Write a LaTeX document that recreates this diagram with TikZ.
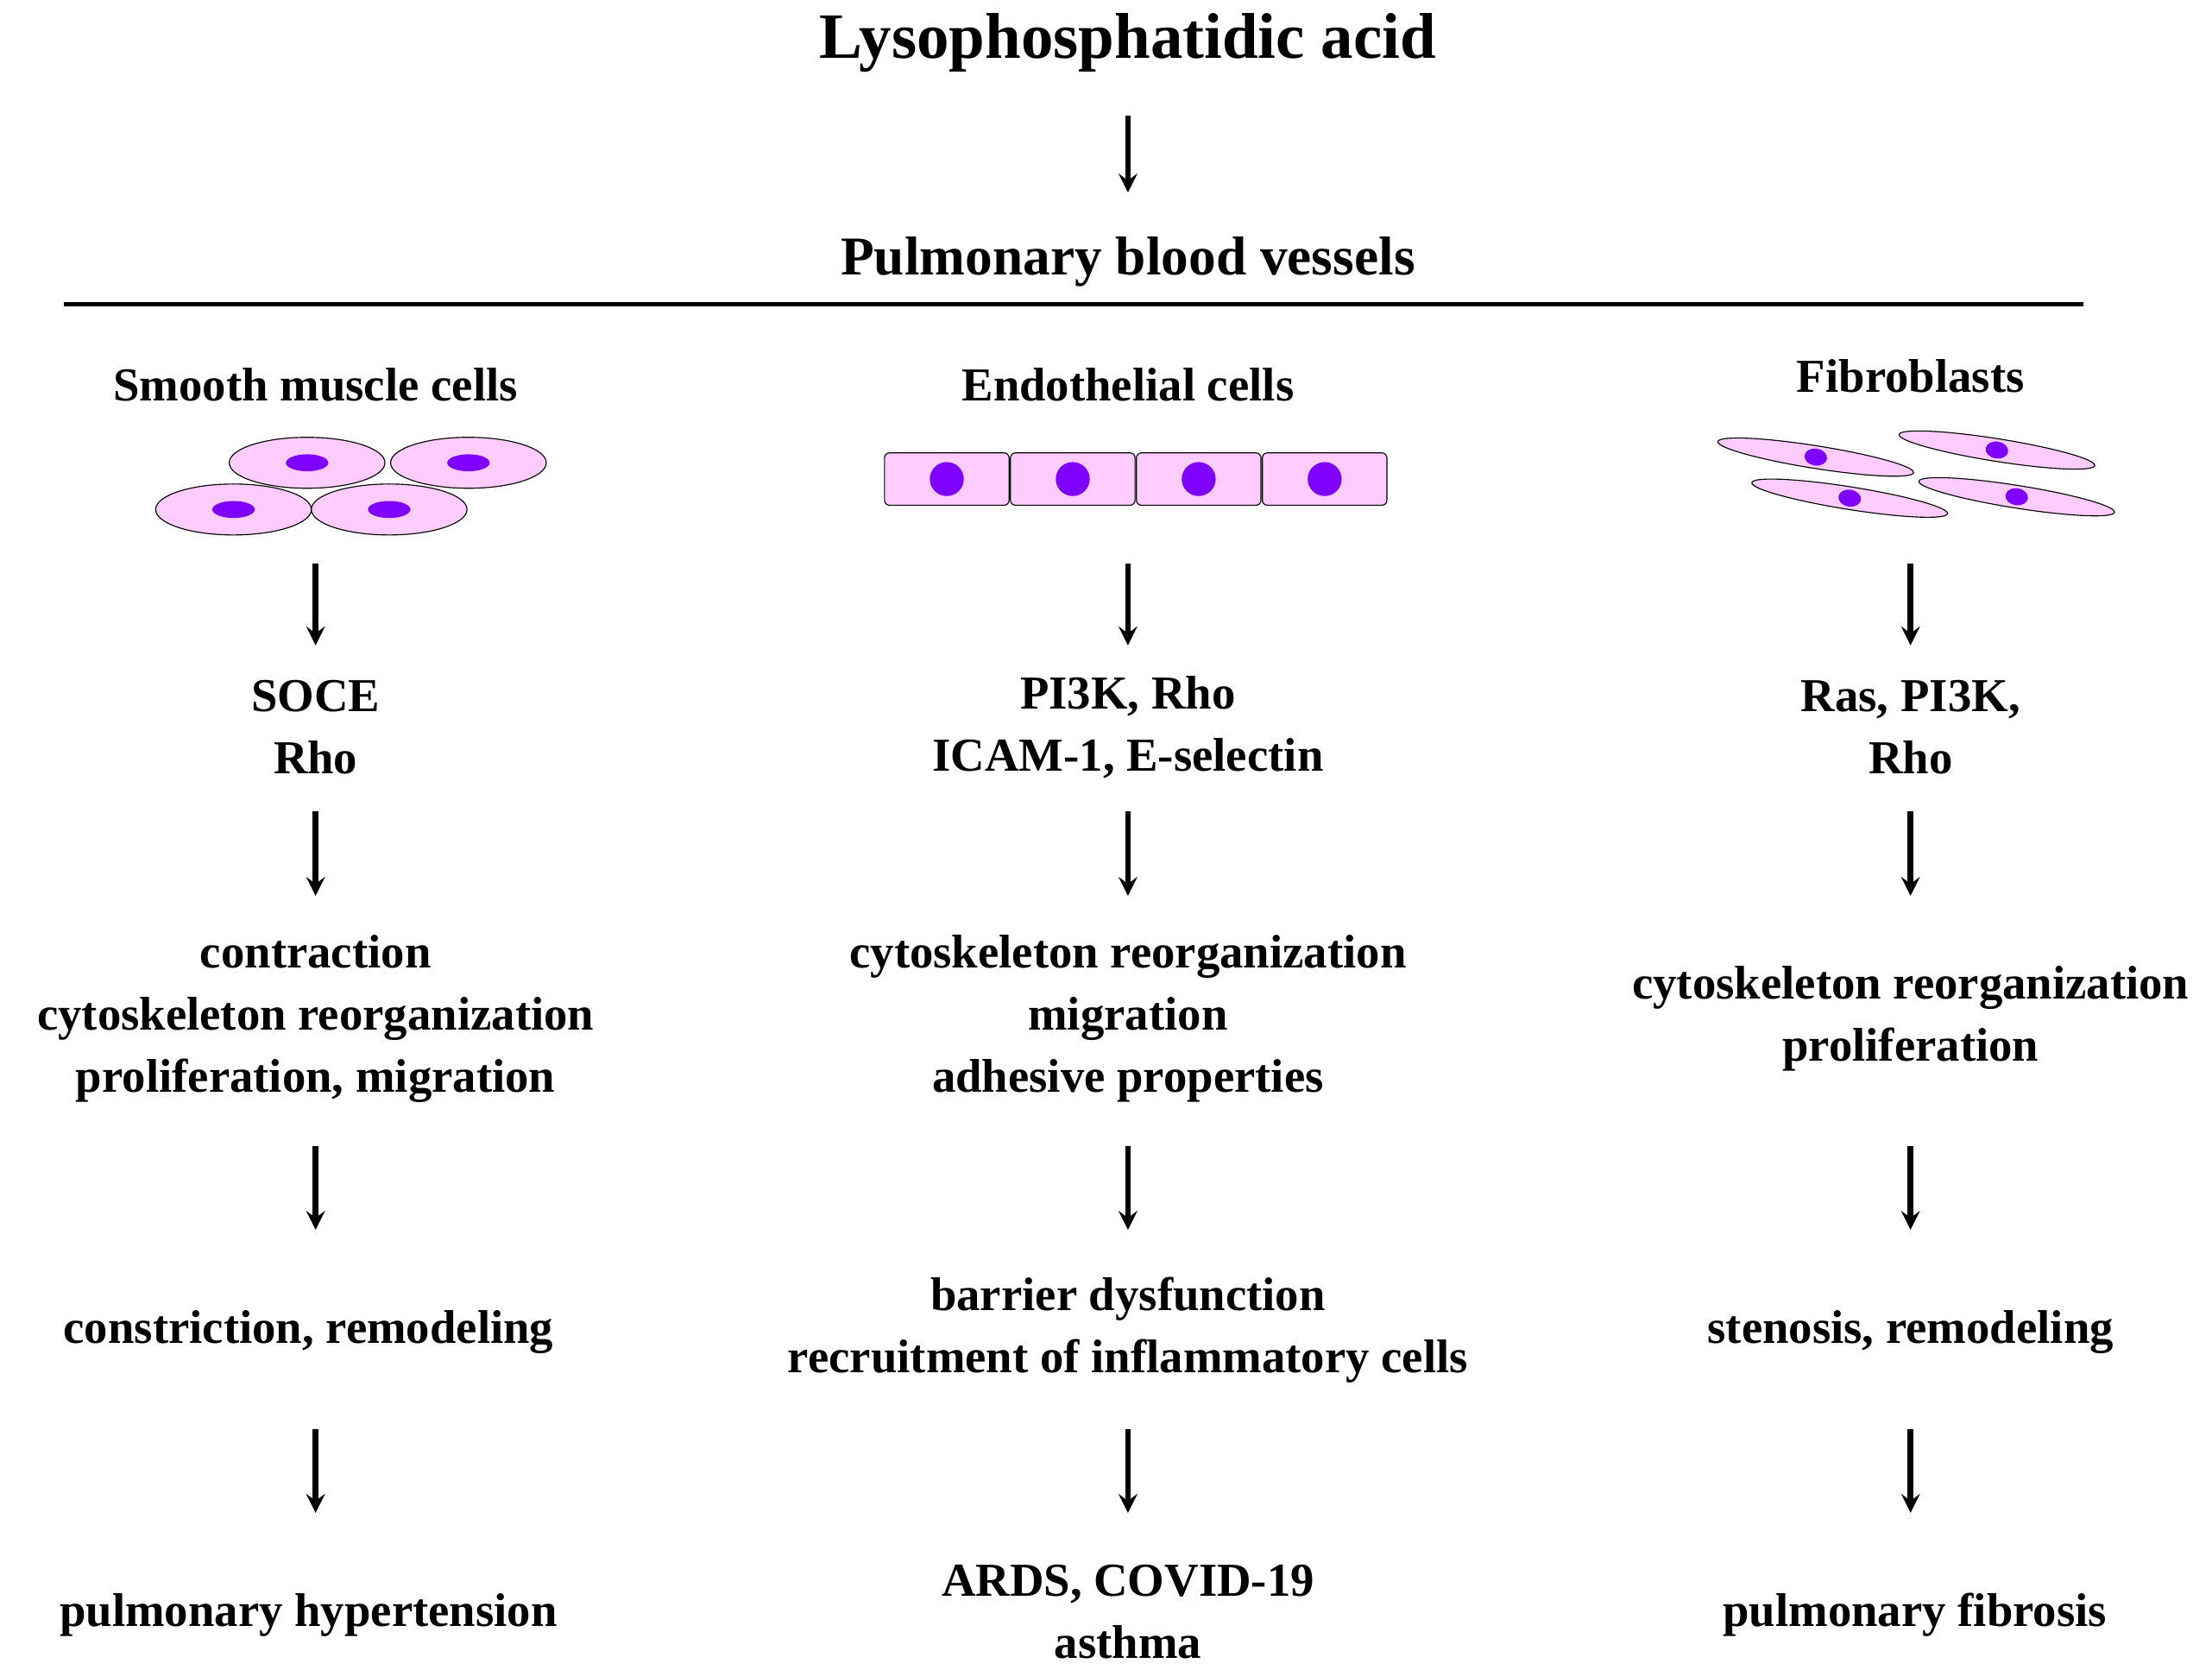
\documentclass[tikz,border=0pt]{standalone}
\usepackage{fontspec}
\setmainfont{Liberation Serif}
\usetikzlibrary{arrows}

\tikzstyle{txt} = [font=\fontsize{19}{25}\selectfont\bfseries, align=center, inner sep=0pt]
\tikzstyle{arrow} = [line width=0.08cm,->,>=stealth]
\tikzstyle{cell} = [draw, thin, fill=cellpink]
\tikzstyle{nucleus} = [fill=nucpurple]
\definecolor{cellpink}{HTML}{FFCCFF}
\definecolor{nucpurple}{HTML}{7F00FF}

\begin{document}
\begin{tikzpicture}
    [x=0.02cm, y=-0.02cm]
  \useasboundingbox (0,0) rectangle (1563,1184);
  % title
  \node[txt, font=\fontsize{26}{30}\selectfont\bfseries] (lpa) at (797,30) {Lysophosphatidic acid};
  \node[txt, font=\fontsize{22}{26}\selectfont\bfseries] (pbv) at (797,185) {Pulmonary blood vessels};
  \coordinate (a0) at (797,82);
  \coordinate (b0) at (797,136);
  \draw [arrow] (a0) -- (b0);
  \coordinate (l1) at (45,215);
  \coordinate (l2) at (1472,215);
  \draw [line width=0.06cm] (l1) -- (l2);
  % headers
  \node[txt] (smc) at (223,272) {Smooth muscle cells};
  \node[txt] (endo) at (797,272) {Endothelial cells};
  \node[txt] (fib) at (1350,266) {Fibroblasts};
  % smooth muscle cells
  \foreach \x/\y in {217/327, 331/327, 165/360, 275/360} {
    \draw[cell] (\x,\y) ellipse (55 and 18);
    \fill[nucleus] (\x,\y) ellipse (15 and 6);
  }
  % endothelial cells
  \foreach \x in {625,714,803,892} {
    \draw[cell, rounded corners=2] (\x,320) rectangle ++(88,37);
    \fill[nucleus] (\x+44,338.5) circle (12);
  }
  % fibroblasts
  \foreach \x/\y in {1283/323, 1411/318, 1307/352, 1425/351} {
    \draw[cell, rotate around={-9:(\x,\y)}] (\x,\y) ellipse (70 and 8);
    \fill[nucleus, rotate around={-9:(\x,\y)}] (\x,\y) ellipse (8 and 6);
  }
  % column texts
  \node[txt] (smc1) at (223,514) {SOCE\\Rho};
  \node[txt] (smc2) at (223,720) {contraction\\cytoskeleton reorganization\\proliferation, migration};
  \node[txt] (smc3) at (218,941) {constriction, remodeling};
  \node[txt] (smc4) at (218,1141) {pulmonary hypertension};
  \node[txt] (endo1) at (797,514) {PI3K, Rho\\ICAM-1, E-selectin};
  \node[txt] (endo2) at (797,720) {cytoskeleton reorganization\\migration\\adhesive properties};
  \node[txt] (endo3) at (797,940) {barrier dysfunction\\recruitment of inflammatory cells};
  \node[txt] (endo4) at (797,1139) {ARDS, COVID-19\\asthma};
  \node[txt] (fib1) at (1350,514) {Ras, PI3K,\\Rho};
  \node[txt] (fib2) at (1350,720) {cytoskeleton reorganization\\proliferation};
  \node[txt] (fib3) at (1350,941) {stenosis, remodeling};
  \node[txt] (fib4) at (1353,1141) {pulmonary fibrosis};
  % arrows
  \foreach \c/\x in {s/223, e/797, f/1350} {
    \foreach \i/\ya/\yb in {1/398/456, 2/573/633, 3/810/869, 4/1010/1069} {
      \coordinate (\c\i a) at (\x,\ya);
      \coordinate (\c\i b) at (\x,\yb);
      \draw [arrow] (\c\i a) -- (\c\i b);
    }
  }
\end{tikzpicture}
\end{document}
